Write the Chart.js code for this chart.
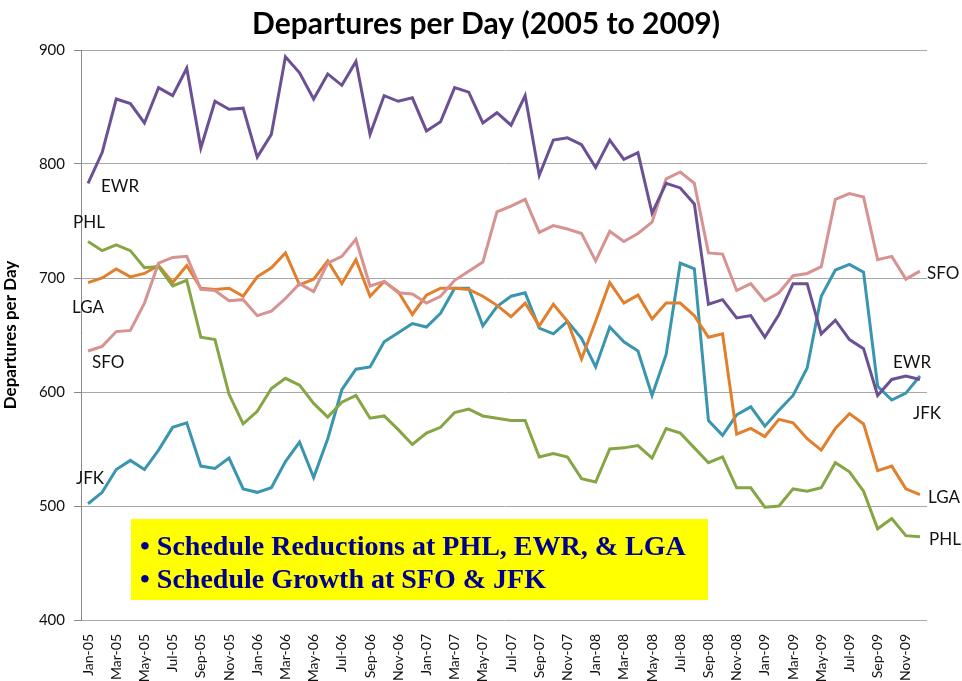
<!DOCTYPE html>
<html lang="en">
<head>
    <meta charset="UTF-8">
    <title>Departures per Day (2005 to 2009)</title>
    <script src="https://cdn.jsdelivr.net/npm/chart.js"></script>
    <style>
        html, body { margin: 0; padding: 0; background: #fff; }
        #wrap { width: 962px; height: 681px; position: relative; }
    </style>
</head>
<body>
    <div id="wrap">
        <canvas id="depChart" width="962" height="681"></canvas>
    </div>

    <script>
        const months = [
            'Jan-05','Feb-05','Mar-05','Apr-05','May-05','Jun-05','Jul-05','Aug-05','Sep-05','Oct-05','Nov-05','Dec-05',
            'Jan-06','Feb-06','Mar-06','Apr-06','May-06','Jun-06','Jul-06','Aug-06','Sep-06','Oct-06','Nov-06','Dec-06',
            'Jan-07','Feb-07','Mar-07','Apr-07','May-07','Jun-07','Jul-07','Aug-07','Sep-07','Oct-07','Nov-07','Dec-07',
            'Jan-08','Feb-08','Mar-08','Apr-08','May-08','Jun-08','Jul-08','Aug-08','Sep-08','Oct-08','Nov-08','Dec-08',
            'Jan-09','Feb-09','Mar-09','Apr-09','May-09','Jun-09','Jul-09','Aug-09','Sep-09','Oct-09','Nov-09','Dec-09'
        ];

        const ewr = [
            783, 810, 857, 853, 836, 867, 860, 884, 814, 855, 848, 849,
            806, 826, 894, 880, 857, 879, 869, 890, 826, 860, 855, 858,
            829, 837, 867, 863, 836, 845, 834, 860, 790, 821, 823, 817,
            797, 821, 804, 810, 757, 783, 779, 765, 677, 681, 665, 667,
            648, 668, 695, 695, 651, 663, 646, 638, 597, 611, 614, 611
        ];
        const sfo = [
            636, 640, 653, 654, 678, 713, 718, 719, 690, 689, 680, 681,
            667, 671, 682, 695, 688, 713, 719, 734, 693, 697, 687, 686,
            678, 684, 698, 706, 714, 758, 763, 769, 740, 746, 743, 739,
            715, 741, 732, 739, 749, 787, 793, 783, 722, 721, 689, 695,
            680, 687, 702, 704, 710, 769, 774, 771, 716, 719, 699, 706
        ];
        const phl = [
            732, 724, 729, 724, 709, 710, 693, 698, 648, 646, 598, 572,
            583, 603, 612, 606, 590, 578, 591, 597, 577, 579, 567, 554,
            564, 569, 582, 585, 579, 577, 575, 575, 543, 546, 543, 524,
            521, 550, 551, 553, 542, 568, 564, 551, 538, 543, 516, 516,
            499, 500, 515, 513, 516, 538, 530, 513, 480, 489, 474, 473
        ];
        const lga = [
            696, 700, 708, 701, 704, 711, 696, 711, 691, 690, 691, 684,
            701, 709, 722, 694, 699, 715, 695, 716, 684, 697, 688, 668,
            685, 691, 691, 690, 684, 676, 666, 678, 658, 677, 662, 629,
            662, 696, 678, 685, 664, 678, 678, 667, 648, 651, 563, 568,
            561, 576, 573, 559, 549, 568, 581, 572, 531, 535, 515, 510
        ];
        const jfk = [
            502, 512, 532, 540, 532, 549, 569, 573, 535, 533, 542, 515,
            512, 516, 539, 556, 525, 559, 602, 620, 622, 644, 652, 660,
            657, 669, 691, 691, 658, 675, 684, 687, 656, 651, 662, 647,
            622, 657, 644, 636, 597, 633, 713, 708, 575, 562, 580, 587,
            570, 584, 597, 621, 684, 707, 712, 705, 605, 593, 599, 614
        ];

        const yTicks = [400, 500, 600, 700, 800, 900];

        const seriesLabels = [
            // name, x, y(baseline)
            ['EWR', 101, 192],
            ['PHL', 73, 228],
            ['LGA', 72, 313],
            ['SFO', 92, 368],
            ['JFK', 76, 484],
            ['SFO', 927, 279],
            ['EWR', 893, 368],
            ['JFK', 913, 419],
            ['LGA', 928, 503],
            ['PHL', 929, 545]
        ];

        const notes = [
            '\u2022 Schedule Reductions at PHL, EWR, & LGA',
            '\u2022 Schedule Growth at SFO & JFK'
        ];

        const overlay = {
            id: 'overlay',
            afterDraw(chart) {
                const ctx = chart.ctx;
                ctx.save();
                // title
                ctx.fillStyle = '#000';
                ctx.font = 'bold 30px Lato, "Open Sans", sans-serif';
                ctx.textAlign = 'center';
                ctx.textBaseline = 'alphabetic';
                ctx.fillText('Departures per Day (2005 to 2009)', 486, 34);

                // series names
                ctx.font = '17px Lato, "Open Sans", sans-serif';
                ctx.textAlign = 'left';
                ctx.fillStyle = '#111';
                seriesLabels.forEach(([name, x, y]) => ctx.fillText(name, x, y));

                // yellow note box
                ctx.fillStyle = '#FFFF00';
                ctx.fillRect(131, 519, 577, 81);
                ctx.fillStyle = '#00008F';
                ctx.font = 'bold 28px "Liberation Serif", "Times New Roman", serif';
                ctx.fillText(notes[0], 140, 555);
                ctx.fillText(notes[1], 140, 588);
                ctx.restore();
            }
        };

        function line(label, data, color) {
            return {
                label: label,
                data: data,
                borderColor: color,
                backgroundColor: color,
                borderWidth: 3,
                pointRadius: 0,
                tension: 0,
                fill: false
            };
        }

        const ctx = document.getElementById('depChart').getContext('2d');
        const chart = new Chart(ctx, {
            type: 'line',
            data: {
                labels: months,
                datasets: [
                    line('EWR', ewr, '#6B5193'),
                    line('SFO', sfo, '#D69391'),
                    line('PHL', phl, '#86A544'),
                    line('LGA', lga, '#E27F2D'),
                    line('JFK', jfk, '#3996AE')
                ]
            },
            options: {
                responsive: false,
                animation: false,
                layout: { padding: { top: 50, right: 35, left: 0, bottom: 0 } },
                plugins: {
                    legend: { display: false },
                    tooltip: { enabled: false }
                },
                scales: {
                    x: {
                        offset: true,
                        grid: { display: false },
                        border: { display: false },
                        ticks: {
                            autoSkip: false,
                            minRotation: 90,
                            maxRotation: 90,
                            padding: 6,
                            color: '#111',
                            font: { size: 14, family: 'Lato, "Open Sans", sans-serif' },
                            callback: function (value, index) {
                                return index % 2 === 0 ? months[index] : '';
                            }
                        },
                        afterFit: function (scale) { scale.height = 61; }
                    },
                    y: {
                        min: 400,
                        max: 900,
                        afterBuildTicks: function (scale) {
                            scale.ticks = yTicks.map(v => ({ value: v }));
                        },
                        grid: {
                            color: '#A8A8A8',
                            lineWidth: 1,
                            tickLength: 7,
                            tickColor: '#888'
                        },
                        border: { display: true, color: '#888', width: 1 },
                        ticks: {
                            padding: 9,
                            color: '#111',
                            font: { size: 15, family: 'Lato, "Open Sans", sans-serif' }
                        },
                        title: {
                            display: true,
                            text: 'Departures per Day',
                            color: '#000',
                            padding: { top: 0, bottom: 0 },
                            font: { size: 17, weight: 'bold', family: 'Lato, "Open Sans", sans-serif' }
                        },
                        afterFit: function (scale) { scale.width = 81; }
                    }
                }
            },
            plugins: [overlay]
        });
    </script>
</body>
</html>
